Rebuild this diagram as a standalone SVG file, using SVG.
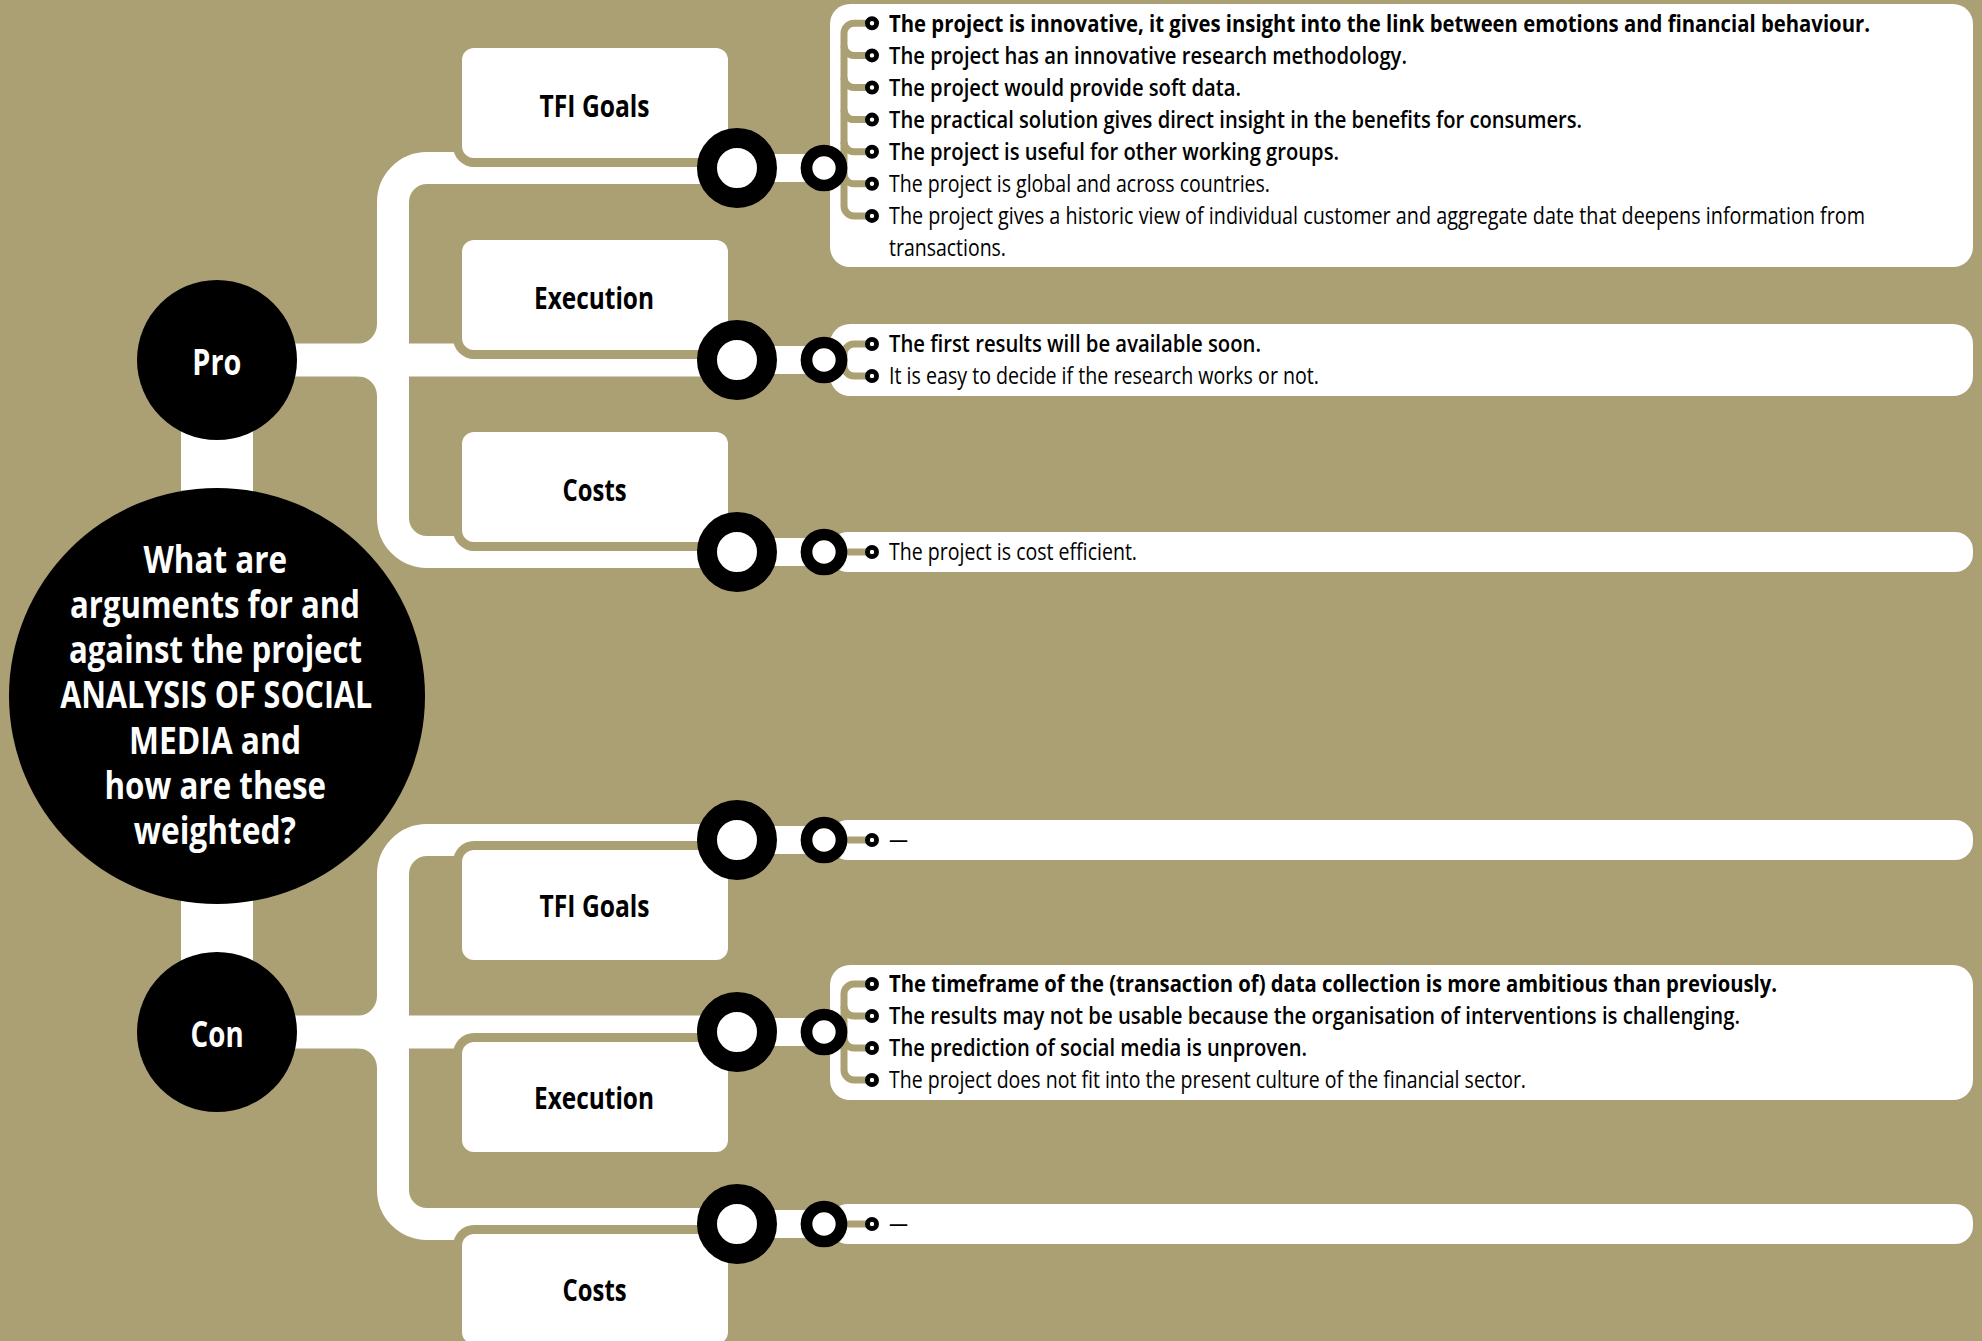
<svg xmlns="http://www.w3.org/2000/svg" width="1982" height="1341" viewBox="0 0 1982 1341">
<style>
.bg{fill:#aba074}
.wline{stroke:#fff;fill:none}
.wfill{fill:#fff}
.tanout{fill:#aba074}
.box{fill:#fff}
.lbl{font-family:"Open Sans","Liberation Sans",sans-serif;font-weight:700;font-size:30px;fill:#000}
.main{font-family:"Open Sans","Liberation Sans",sans-serif;font-weight:700;font-size:37px;fill:#fff}
.pc{font-family:"Open Sans","Liberation Sans",sans-serif;font-weight:700;font-size:35px;fill:#fff}
.bigring{fill:#fff;stroke:#000;stroke-width:20}
.smring{fill:#fff;stroke:#000;stroke-width:11.7}
.list{fill:#fff}
.tree{stroke:#aba074;stroke-width:7;fill:none}
.bul{fill:#fff;stroke:#000;stroke-width:4.8}
.t{font-family:"Open Sans","Liberation Sans",sans-serif;font-size:23px;fill:#000}
.b7{font-weight:700}
.b6{font-weight:600}
.b4{font-weight:400}
</style>
<rect class="bg" x="0" y="0" width="1982" height="1341"/>

<g id="connectors">
  <rect class="wfill" x="181" y="360" width="72" height="672"/>
  <line class="wline" x1="217" y1="360" x2="737" y2="360" stroke-width="33"/>
  <line class="wline" x1="217" y1="1032" x2="737" y2="1032" stroke-width="33"/>
  <path class="wline" stroke-width="32" d="M 737 168 H 427 A 34 34 0 0 0 393 202 V 518 A 34 34 0 0 0 427 552 H 737"/>
  <path class="wline" stroke-width="32" d="M 737 840 H 427 A 34 34 0 0 0 393 874 V 1190 A 34 34 0 0 0 427 1224 H 737"/>
  <path class="wfill" d="M 377 324 A 20 20 0 0 1 357 344 L 377 344 Z"/>
  <path class="wfill" d="M 357 376 A 20 20 0 0 1 377 396 L 377 376 Z"/>
  <path class="wfill" d="M 377 996 A 20 20 0 0 1 357 1016 L 377 1016 Z"/>
  <path class="wfill" d="M 357 1048 A 20 20 0 0 1 377 1068 L 377 1048 Z"/>
  <g stroke="#fff" stroke-width="28">
    <line x1="737" y1="168" x2="824" y2="168"/>
    <line x1="737" y1="360" x2="824" y2="360"/>
    <line x1="737" y1="552" x2="824" y2="552"/>
    <line x1="737" y1="840" x2="824" y2="840"/>
    <line x1="737" y1="1032" x2="824" y2="1032"/>
    <line x1="737" y1="1224" x2="824" y2="1224"/>
  </g>
</g>

<g id="node-question">
  <circle cx="217" cy="696" r="208" fill="#000"/>
  <text class="main" x="143.5" y="572.5" textLength="143.5" lengthAdjust="spacingAndGlyphs">What are</text>
  <text class="main" x="70" y="617.8" textLength="290" lengthAdjust="spacingAndGlyphs">arguments for and</text>
  <text class="main" x="69" y="663.1" textLength="293" lengthAdjust="spacingAndGlyphs">against the project</text>
  <text class="main" x="60.3" y="708.4" textLength="312" lengthAdjust="spacingAndGlyphs">ANALYSIS OF SOCIAL</text>
  <text class="main" x="129" y="753.7" textLength="172" lengthAdjust="spacingAndGlyphs">MEDIA and</text>
  <text class="main" x="104.5" y="799" textLength="221.6" lengthAdjust="spacingAndGlyphs">how are these</text>
  <text class="main" x="133.8" y="844.3" textLength="162" lengthAdjust="spacingAndGlyphs">weighted?</text>
</g>

<g id="node-pro">
  <circle cx="217" cy="360" r="80" fill="#000"/>
  <text class="pc" x="192.3" y="375" textLength="49" lengthAdjust="spacingAndGlyphs">Pro</text>
</g>
<g id="node-con">
  <circle cx="217" cy="1032" r="80" fill="#000"/>
  <text class="pc" x="190.6" y="1047" textLength="53" lengthAdjust="spacingAndGlyphs">Con</text>
</g>

<g id="node-pro-tfi">
  <rect class="tanout" x="453" y="39" width="284" height="128" rx="21"/>
  <rect class="box" x="462" y="48" width="266" height="110" rx="12"/>
  <text class="lbl" x="539.6" y="117" textLength="110" lengthAdjust="spacingAndGlyphs">TFI Goals</text>
</g>
<g id="node-pro-exec">
  <rect class="tanout" x="453" y="231" width="284" height="128" rx="21"/>
  <rect class="box" x="462" y="240" width="266" height="110" rx="12"/>
  <text class="lbl" x="534" y="309" textLength="120" lengthAdjust="spacingAndGlyphs">Execution</text>
</g>
<g id="node-pro-costs">
  <rect class="tanout" x="453" y="423" width="284" height="128" rx="21"/>
  <rect class="box" x="462" y="432" width="266" height="110" rx="12"/>
  <text class="lbl" x="562.6" y="501" textLength="64" lengthAdjust="spacingAndGlyphs">Costs</text>
</g>
<g id="node-con-tfi">
  <rect class="tanout" x="453" y="841" width="284" height="128" rx="21"/>
  <rect class="box" x="462" y="850" width="266" height="110" rx="12"/>
  <text class="lbl" x="539.6" y="917" textLength="110" lengthAdjust="spacingAndGlyphs">TFI Goals</text>
</g>
<g id="node-con-exec">
  <rect class="tanout" x="453" y="1033" width="284" height="128" rx="21"/>
  <rect class="box" x="462" y="1042" width="266" height="110" rx="12"/>
  <text class="lbl" x="534" y="1109" textLength="120" lengthAdjust="spacingAndGlyphs">Execution</text>
</g>
<g id="node-con-costs">
  <rect class="tanout" x="453" y="1225" width="284" height="128" rx="21"/>
  <rect class="box" x="462" y="1234" width="266" height="110" rx="12"/>
  <text class="lbl" x="562.6" y="1301" textLength="64" lengthAdjust="spacingAndGlyphs">Costs</text>
</g>

<g id="rings-big">
  <circle class="bigring" cx="737" cy="168" r="30"/>
  <circle class="bigring" cx="737" cy="360" r="30"/>
  <circle class="bigring" cx="737" cy="552" r="30"/>
  <circle class="bigring" cx="737" cy="840" r="30"/>
  <circle class="bigring" cx="737" cy="1032" r="30"/>
  <circle class="bigring" cx="737" cy="1224" r="30"/>
</g>

<g id="list-boxes">
  <rect class="list" x="830" y="4" width="1143" height="263" rx="20"/>
  <rect class="list" x="830" y="324" width="1143" height="72" rx="20"/>
  <rect class="list" x="830" y="532" width="1143" height="40" rx="18"/>
  <rect class="list" x="830" y="820" width="1143" height="40" rx="18"/>
  <rect class="list" x="830" y="965" width="1143" height="135" rx="20"/>
  <rect class="list" x="830" y="1204" width="1143" height="40" rx="18"/>
</g>

<g id="list-connectors">
  <path class="tree" d="M 872 23.3 H 854 A 10 10 0 0 0 844 33.3 V 205.9 A 10 10 0 0 0 854 215.9 H 872"/>
  <path class="tree" d="M 844 45.4 A 10 10 0 0 0 854 55.4 H 872"/>
  <path class="tree" d="M 844 77.5 A 10 10 0 0 0 854 87.5 H 872"/>
  <path class="tree" d="M 844 109.6 A 10 10 0 0 0 854 119.6 H 872"/>
  <path class="tree" d="M 844 141.7 A 10 10 0 0 0 854 151.7 H 872"/>
  <path class="tree" d="M 844 173.8 A 10 10 0 0 0 854 183.8 H 872"/>
  <path class="tree" d="M 872 344 H 854 A 10 10 0 0 0 844 354 V 366 A 10 10 0 0 0 854 376 H 872"/>
  <line class="tree" x1="824" y1="552" x2="872" y2="552"/>
  <line class="tree" x1="824" y1="840" x2="872" y2="840"/>
  <path class="tree" d="M 872 984 H 854 A 10 10 0 0 0 844 994 V 1070 A 10 10 0 0 0 854 1080 H 872"/>
  <path class="tree" d="M 844 1006 A 10 10 0 0 0 854 1016 H 872"/>
  <path class="tree" d="M 844 1038 A 10 10 0 0 0 854 1048 H 872"/>
  <line class="tree" x1="824" y1="1224" x2="872" y2="1224"/>
</g>

<g id="rings-small">
  <circle class="smring" cx="824" cy="168" r="17.5"/>
  <circle class="smring" cx="824" cy="360" r="17.5"/>
  <circle class="smring" cx="824" cy="552" r="17.5"/>
  <circle class="smring" cx="824" cy="840" r="17.5"/>
  <circle class="smring" cx="824" cy="1032" r="17.5"/>
  <circle class="smring" cx="824" cy="1224" r="17.5"/>
</g>

<g id="list-pro-tfi">
  <circle class="bul" cx="872" cy="23.3" r="4.6"/>
  <circle class="bul" cx="872" cy="55.4" r="4.6"/>
  <circle class="bul" cx="872" cy="87.5" r="4.6"/>
  <circle class="bul" cx="872" cy="119.6" r="4.6"/>
  <circle class="bul" cx="872" cy="151.7" r="4.6"/>
  <circle class="bul" cx="872" cy="183.8" r="4.6"/>
  <circle class="bul" cx="872" cy="215.9" r="4.6"/>
  <text class="t b7" x="889" y="31.6" textLength="981" lengthAdjust="spacingAndGlyphs">The project is innovative, it gives insight into the link between emotions and financial behaviour.</text>
  <text class="t b6" x="889" y="63.7" textLength="518" lengthAdjust="spacingAndGlyphs">The project has an innovative research methodology.</text>
  <text class="t b6" x="889" y="95.8" textLength="352" lengthAdjust="spacingAndGlyphs">The project would provide soft data.</text>
  <text class="t b6" x="889" y="127.9" textLength="693" lengthAdjust="spacingAndGlyphs">The practical solution gives direct insight in the benefits for consumers.</text>
  <text class="t b6" x="889" y="160" textLength="450" lengthAdjust="spacingAndGlyphs">The project is useful for other working groups.</text>
  <text class="t b4" x="889" y="192.1" textLength="381" lengthAdjust="spacingAndGlyphs">The project is global and across countries.</text>
  <text class="t b4" x="889" y="224.2" textLength="976" lengthAdjust="spacingAndGlyphs">The project gives a historic view of individual customer and aggregate date that deepens information from</text>
  <text class="t b4" x="889" y="256.3" textLength="117" lengthAdjust="spacingAndGlyphs">transactions.</text>
</g>

<g id="list-pro-exec">
  <circle class="bul" cx="872" cy="344" r="4.6"/>
  <circle class="bul" cx="872" cy="376" r="4.6"/>
  <text class="t b6" x="889" y="352.3" textLength="372" lengthAdjust="spacingAndGlyphs">The first results will be available soon.</text>
  <text class="t b4" x="889" y="384.3" textLength="430" lengthAdjust="spacingAndGlyphs">It is easy to decide if the research works or not.</text>
</g>

<g id="list-pro-costs">
  <circle class="bul" cx="872" cy="552" r="4.6"/>
  <text class="t b4" x="889" y="560.3" textLength="248" lengthAdjust="spacingAndGlyphs">The project is cost efficient.</text>
</g>

<g id="list-con-tfi">
  <circle class="bul" cx="872" cy="840" r="4.6"/>
  <text class="t b4" x="889" y="848.3" textLength="19" lengthAdjust="spacingAndGlyphs">—</text>
</g>

<g id="list-con-exec">
  <circle class="bul" cx="872" cy="984" r="4.6"/>
  <circle class="bul" cx="872" cy="1016" r="4.6"/>
  <circle class="bul" cx="872" cy="1048" r="4.6"/>
  <circle class="bul" cx="872" cy="1080" r="4.6"/>
  <text class="t b7" x="889" y="992.3" textLength="888" lengthAdjust="spacingAndGlyphs">The timeframe of the (transaction of) data collection is more ambitious than previously.</text>
  <text class="t b6" x="889" y="1024.3" textLength="851" lengthAdjust="spacingAndGlyphs">The results may not be usable because the organisation of interventions is challenging.</text>
  <text class="t b6" x="889" y="1056.3" textLength="418" lengthAdjust="spacingAndGlyphs">The prediction of social media is unproven.</text>
  <text class="t b4" x="889" y="1088.3" textLength="637" lengthAdjust="spacingAndGlyphs">The project does not fit into the present culture of the financial sector.</text>
</g>

<g id="list-con-costs">
  <circle class="bul" cx="872" cy="1224" r="4.6"/>
  <text class="t b4" x="889" y="1232.3" textLength="19" lengthAdjust="spacingAndGlyphs">—</text>
</g>
</svg>
